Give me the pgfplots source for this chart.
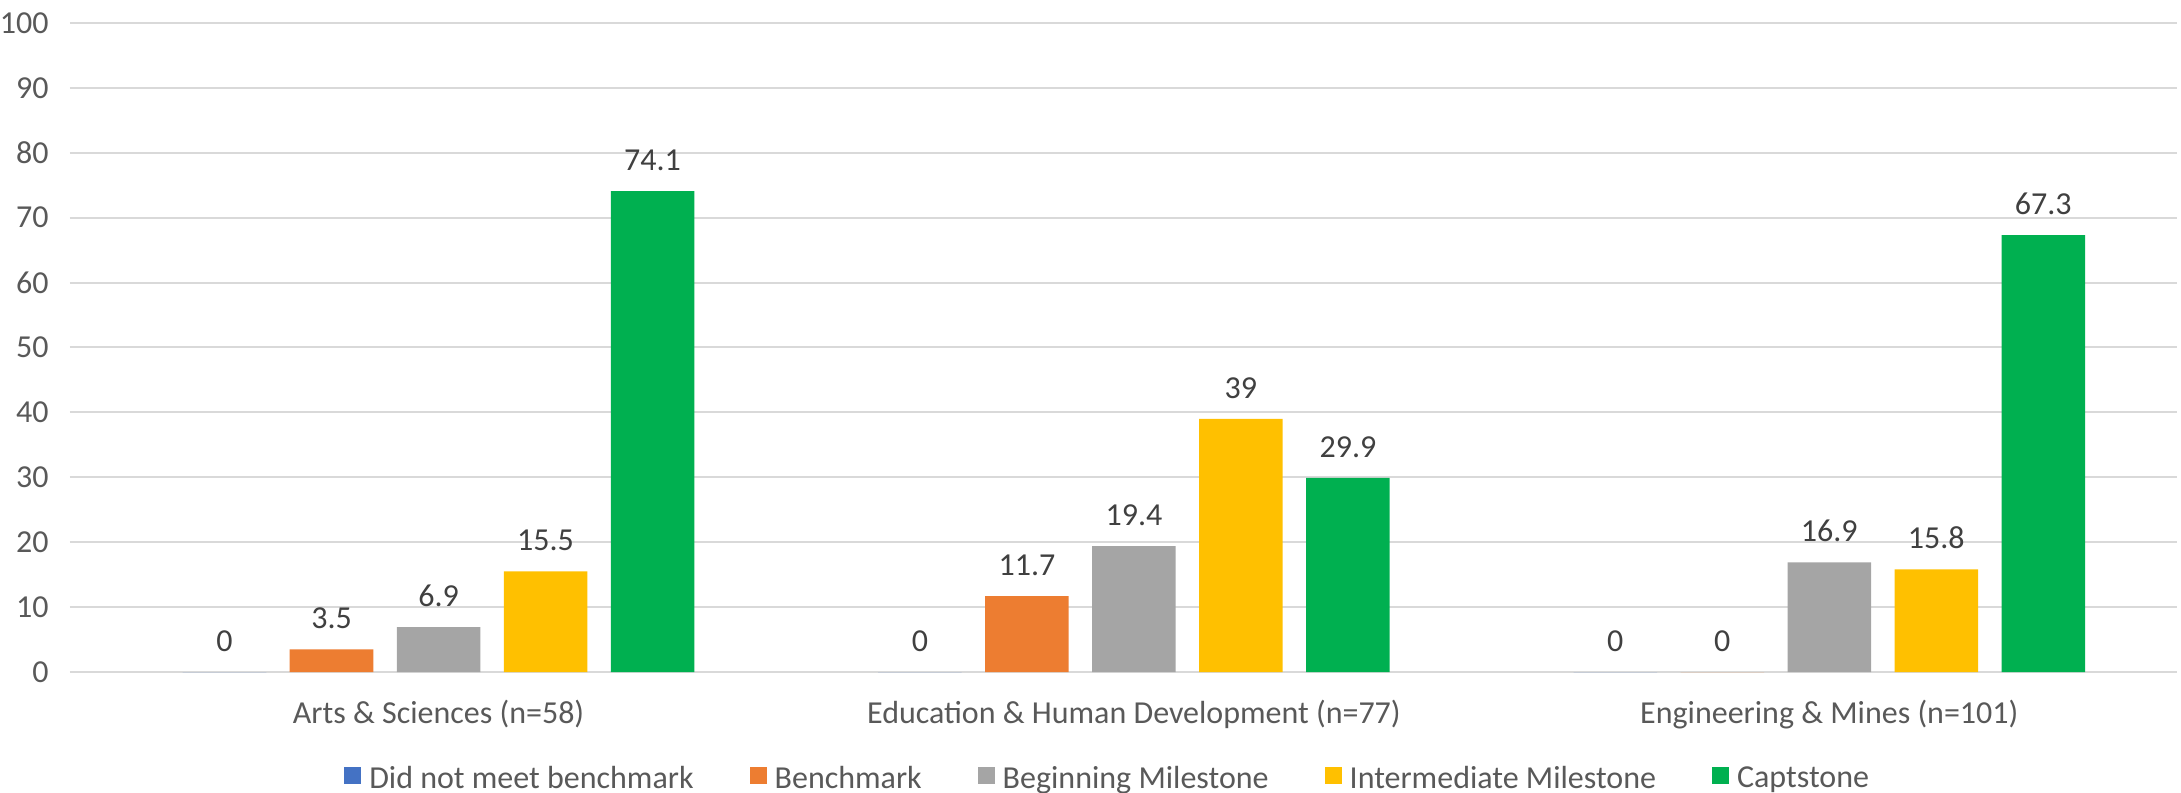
\documentclass[border=0pt]{standalone}
\usepackage{pgfplots}
\pgfplotsset{compat=1.18}
\usepackage{fontspec}
\setmainfont{Carlito}
\definecolor{cBlue}{HTML}{4472C4}
\definecolor{cOrange}{HTML}{ED7D31}
\definecolor{cGray}{HTML}{A5A5A5}
\definecolor{cYellow}{HTML}{FFC000}
\definecolor{cGreen}{HTML}{00B050}
\definecolor{gridGray}{HTML}{D9D9D9}
\definecolor{axisText}{HTML}{595959}
\definecolor{labelText}{HTML}{404040}
\newcommand{\chartfont}{\fontsize{16}{19}\selectfont}
\begin{document}
\begin{tikzpicture}
\begin{axis}[
  scale only axis,
  width=1053.5pt, height=324.5pt,
  xmin=-0.53, xmax=2.5,
  ymin=0, ymax=100,
  ytick={0,10,...,100},
  xtick={0,1,2},
  xticklabels={Arts \& Sciences (n=58), Education \& Human Development (n=77), Engineering \& Mines (n=101)},
  ymajorgrids,
  grid style={draw=gridGray, line width=1pt},
  axis line style={draw=none},
  major tick length=0pt,
  /pgf/number format/assume math mode=true,
  tick label style={font=\chartfont, text=axisText},
  yticklabel style={inner sep=0pt, xshift=-10.5pt},
  xticklabel style={inner sep=0pt, yshift=-14pt},
  ybar,
  bar width=41.8pt,
  nodes near coords,
  every node near coord/.append style={font=\chartfont, text=labelText, inner sep=0pt, yshift=10pt},
  legend columns=5,
  legend image code/.code={\fill[#1] (0pt,-3pt) rectangle (8.5pt,5.5pt);},
  legend style={at={(0.492,-0.144)}, anchor=north, draw=none, inner sep=0pt,
    font=\chartfont, text=axisText, nodes={inner sep=0pt},
    /tikz/every odd column/.append style={column sep=4pt},
    /tikz/every even column/.append style={column sep=28pt}},
]
% Did not meet benchmark
\addplot[fill=cBlue, draw=none, bar shift=-107pt] coordinates {(0,0) (1,0) (2,0)};
% Benchmark
\addplot[fill=cOrange, draw=none, bar shift=-53.5pt] coordinates {(0,3.5) (1,11.7) (2,0)};
% Beginning Milestone
\addplot[fill=cGray, draw=none, bar shift=0pt] coordinates {(0,6.9) (1,19.4) (2,16.9)};
% Intermediate Milestone
\addplot[fill=cYellow, draw=none, bar shift=53.5pt] coordinates {(0,15.5) (1,39) (2,15.8)};
% Captstone
\addplot[fill=cGreen, draw=none, bar shift=107pt] coordinates {(0,74.1) (1,29.9) (2,67.3)};
\legend{Did not meet benchmark, Benchmark, Beginning Milestone, Intermediate Milestone, Captstone}
\end{axis}
\pgfresetboundingbox
\path[use as bounding box] ([xshift=-35pt, yshift=-60pt]current axis.south west) rectangle ([xshift=2pt, yshift=11.5pt]current axis.north east);
\end{tikzpicture}
\end{document}
